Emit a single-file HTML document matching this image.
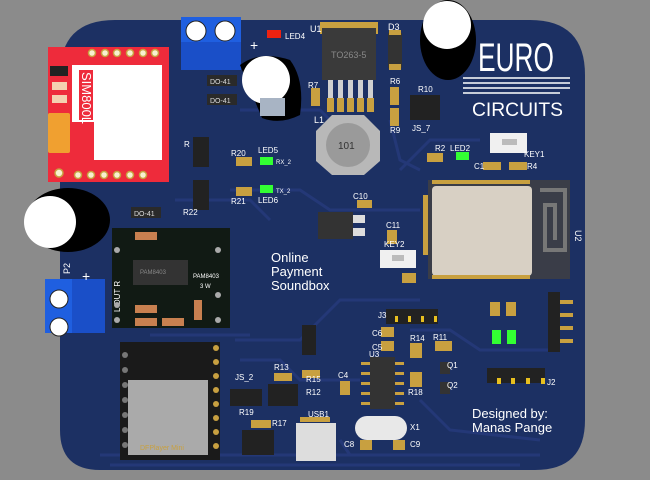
<!DOCTYPE html>
<html><head><meta charset="utf-8"><style>
html,body{margin:0;padding:0;background:#8b8b8b;}
svg{display:block}
text{font-family:"Liberation Sans",sans-serif;}
</style></head><body>
<svg width="650" height="480" viewBox="0 0 650 480" xmlns="http://www.w3.org/2000/svg">
<rect width="650" height="480" fill="#8b8b8b"/>
<!-- board -->
<path d="M115,20 L530,20 Q585,20 585,75 L585,420 Q585,470 535,470 L100,470 Q60,470 60,430 L60,75 Q60,20 115,20 Z" fill="#1c3063"/>
<!-- traces -->
<g stroke="#25397a" stroke-width="3" fill="none" opacity="0.9">
<path d="M240,110 L320,110 L330,120"/><path d="M230,190 L300,190 L330,210 L420,210"/>
<path d="M235,340 L300,340 L340,300 L420,300"/><path d="M240,360 L280,360 L300,380 L360,380"/>
<path d="M400,170 L430,140 L480,140"/><path d="M410,330 L450,330 L480,350 L560,350"/>
<path d="M420,400 L450,430 L540,440"/><path d="M110,465 L520,465"/><path d="M100,455 L540,455"/>
<path d="M175,200 L250,200 L270,220"/><path d="M390,120 L400,160 L420,170"/>
<path d="M340,440 L350,455"/><path d="M150,335 L250,335"/>
</g>
<!-- SIM800L -->
<rect x="48" y="47" width="121" height="135" fill="#ee2b3b"/>
<rect x="72" y="65" width="90" height="95" fill="#fff"/>
<rect x="72" y="122" width="22" height="38" fill="#ee2b3b"/>
<rect x="79" y="70" width="14" height="50" fill="#ee2b3b"/>
<text x="0" y="0" transform="translate(82,72) rotate(90)" font-family="Liberation Serif" font-size="13" fill="#fff">SIM800L</text>
<rect x="48" y="113" width="22" height="40" rx="2" fill="#f0a030"/>
<rect x="50" y="66" width="18" height="10" fill="#222"/>
<rect x="52" y="82" width="15" height="8" fill="#f4d0b0"/><rect x="52" y="95" width="15" height="8" fill="#f4d0b0"/>
<g fill="#f8f0d0" stroke="#c8a040" stroke-width="1.5">
<circle cx="92" cy="53" r="3.5"/><circle cx="105" cy="53" r="3.5"/><circle cx="117" cy="53" r="3.5"/><circle cx="130" cy="53" r="3.5"/><circle cx="143" cy="53" r="3.5"/><circle cx="155" cy="53" r="3.5"/>
<circle cx="78" cy="175" r="3.5"/><circle cx="91" cy="175" r="3.5"/><circle cx="104" cy="175" r="3.5"/><circle cx="117" cy="175" r="3.5"/><circle cx="130" cy="175" r="3.5"/><circle cx="143" cy="175" r="3.5"/>
<circle cx="59" cy="173" r="4"/></g>
<!-- top terminal -->
<rect x="181" y="17" width="60" height="53" fill="#1f5fe0"/>
<rect x="181" y="42" width="60" height="28" fill="#1a4fc8"/>
<circle cx="196" cy="31" r="10" fill="#fff" stroke="#222" stroke-width="1"/><circle cx="225" cy="31" r="10" fill="#fff" stroke="#222" stroke-width="1"/>
<text x="250" y="50" font-size="14" fill="#fff">+</text>
<!-- left terminal -->
<rect x="45" y="279" width="60" height="54" fill="#1f5fe0"/>
<rect x="72" y="279" width="33" height="54" fill="#1a4fc8"/>
<circle cx="59" cy="299" r="9" fill="#fff" stroke="#222"/><circle cx="59" cy="327" r="9" fill="#fff" stroke="#222"/>
<text x="70" y="274" font-size="9" fill="#fff" transform="rotate(-90 70 274)">P2</text>
<text x="82" y="281" font-size="14" fill="#fff">+</text>
<!-- big caps -->
<ellipse cx="68" cy="220" rx="42" ry="32" fill="#000"/><circle cx="50" cy="222" r="26" fill="#fff"/>
<path d="M240,65 Q260,50 290,60 Q305,80 300,115 Q280,125 262,118 Z" fill="#000"/>
<circle cx="266" cy="80" r="24" fill="#fff"/>
<rect x="260" y="98" width="25" height="18" fill="#a8b4c4"/>
<ellipse cx="448" cy="40" rx="28" ry="40" fill="#000"/><circle cx="447" cy="25" r="24" fill="#fff"/>
<!-- diodes -->
<g><rect x="207" y="75" width="30" height="11" fill="#2a2a2a"/><rect x="207" y="94" width="30" height="11" fill="#2a2a2a"/><rect x="131" y="207" width="30" height="11" fill="#2a2a2a"/></g>
<text x="210" y="84" font-size="7" fill="#ddd">DO-41</text><text x="210" y="103" font-size="7" fill="#ddd">DO-41</text><text x="134" y="216" font-size="7" fill="#ddd">DO-41</text>
<!-- U1 -->
<rect x="320" y="22" width="58" height="12" fill="#c8a040"/>
<rect x="322" y="28" width="54" height="52" fill="#3a3a3a"/>
<text x="331" y="58" font-size="9" fill="#888">TO263-5</text>
<g fill="#d0d0d0"><rect x="328" y="80" width="5" height="25"/><rect x="338" y="80" width="5" height="25"/><rect x="348" y="80" width="5" height="25"/><rect x="358" y="80" width="5" height="25"/><rect x="368" y="80" width="5" height="25"/></g>
<g fill="#c8a040"><rect x="327" y="98" width="7" height="14"/><rect x="337" y="98" width="7" height="14"/><rect x="347" y="98" width="7" height="14"/><rect x="357" y="98" width="7" height="14"/><rect x="367" y="98" width="7" height="14"/></g>
<text x="310" y="32" font-size="9" fill="#fff">U1</text>
<!-- D3 -->
<rect x="388" y="33" width="14" height="35" fill="#333"/><rect x="389" y="30" width="12" height="5" fill="#c8a040"/><rect x="389" y="64" width="12" height="6" fill="#c8a040"/>
<text x="388" y="30" font-size="9" fill="#fff">D3</text>
<!-- L1 -->
<polygon points="332,115 364,115 380,131 380,161 364,175 332,175 316,161 316,131" fill="#b8b8b8"/>
<circle cx="348" cy="145" r="22" fill="#9a9a9a"/>
<text x="338" y="149" font-size="10" fill="#333">101</text>
<text x="314" y="123" font-size="9" fill="#fff">L1</text>
<!-- ESP U2 -->
<rect x="428" y="180" width="142" height="99" fill="#3a3d48"/>
<rect x="432" y="186" width="100" height="90" rx="4" fill="#d8d0c4"/>
<path d="M540,190 L565,190 L565,250 L545,250 L545,205 L555,205 L555,240" stroke="#777" stroke-width="4" fill="none"/>
<g fill="#c8a040"><rect x="432" y="180" width="98" height="4"/><rect x="432" y="275" width="98" height="4"/><rect x="423" y="195" width="5" height="60"/></g>
<text x="575" y="230" font-size="9" fill="#fff" transform="rotate(90 575 230)">U2</text>
<!-- logo -->
<text x="478" y="71" font-size="40" fill="#fff" font-family="Liberation Sans Narrow" textLength="76" lengthAdjust="spacingAndGlyphs">EURO</text>
<g stroke="#fff" stroke-width="1.5"><line x1="463" y1="78" x2="570" y2="78"/><line x1="463" y1="83" x2="570" y2="83"/><line x1="463" y1="88" x2="570" y2="88"/><line x1="463" y1="93" x2="560" y2="93"/></g>
<text x="472" y="116" font-size="19" fill="#fff" textLength="91" lengthAdjust="spacingAndGlyphs">CIRCUITS</text>
<!-- PAM board -->
<rect x="112" y="228" width="118" height="100" fill="#111a14"/>
<rect x="133" y="260" width="55" height="25" fill="#333"/>
<text x="140" y="274" font-size="6" fill="#888">PAM8403</text>
<text x="193" y="278" font-size="6" fill="#fff">PAM8403</text><text x="200" y="288" font-size="6" fill="#fff">3 W</text>
<text x="120" y="312" font-size="8" fill="#fff" transform="rotate(-90 120 312)">L OUT R</text>
<g fill="#c88050"><rect x="135" y="232" width="22" height="8"/><rect x="135" y="305" width="22" height="8"/><rect x="135" y="318" width="22" height="8"/><rect x="162" y="318" width="22" height="8"/><rect x="194" y="300" width="8" height="20"/></g>
<g fill="#aaa"><circle cx="117" cy="250" r="3"/><circle cx="117" cy="305" r="3"/><circle cx="117" cy="320" r="3"/><circle cx="218" cy="250" r="3"/><circle cx="218" cy="295" r="3"/><circle cx="218" cy="320" r="3"/></g>
<!-- DFPlayer -->
<rect x="120" y="342" width="100" height="118" fill="#1a1a1a"/>
<rect x="128" y="380" width="80" height="75" fill="#aaa"/>
<text x="140" y="450" font-size="7" fill="#c8a040">DFPlayer Mini</text>
<g fill="#777"><circle cx="125" cy="355" r="3"/><circle cx="125" cy="370" r="3"/><circle cx="125" cy="385" r="3"/><circle cx="125" cy="400" r="3"/><circle cx="125" cy="415" r="3"/><circle cx="125" cy="430" r="3"/><circle cx="125" cy="445" r="3"/></g>
<g fill="#c8a040"><circle cx="216" cy="348" r="3"/><circle cx="216" cy="362" r="3"/><circle cx="216" cy="376" r="3"/><circle cx="216" cy="390" r="3"/><circle cx="216" cy="404" r="3"/><circle cx="216" cy="418" r="3"/><circle cx="216" cy="432" r="3"/><circle cx="216" cy="446" r="3"/></g>
<!-- jumpers -->
<g fill="#222"><rect x="193" y="137" width="16" height="30"/><rect x="193" y="180" width="16" height="30"/><rect x="230" y="389" width="32" height="17"/><rect x="268" y="384" width="30" height="22"/><rect x="242" y="430" width="32" height="25"/><rect x="302" y="325" width="14" height="30"/><rect x="410" y="95" width="30" height="25"/></g>
<!-- LEDs -->
<rect x="260" y="157" width="13" height="8" fill="#3f3"/><rect x="260" y="185" width="13" height="8" fill="#3f3"/><rect x="456" y="152" width="13" height="8" fill="#3f3"/>
<rect x="492" y="330" width="9" height="14" fill="#3f3"/><rect x="507" y="330" width="9" height="14" fill="#3f3"/>
<rect x="267" y="30" width="14" height="8" fill="#e21"/>
<!-- small SMD parts -->
<g fill="#c8a040"><rect x="236" y="157" width="16" height="9"/><rect x="236" y="187" width="16" height="9"/><rect x="311" y="88" width="9" height="18"/><rect x="390" y="87" width="9" height="18"/><rect x="390" y="108" width="9" height="18"/><rect x="427" y="153" width="16" height="9"/><rect x="483" y="162" width="18" height="8"/><rect x="509" y="162" width="18" height="8"/><rect x="357" y="200" width="15" height="8"/><rect x="387" y="230" width="10" height="14"/><rect x="402" y="273" width="14" height="10"/><rect x="381" y="327" width="13" height="10"/><rect x="381" y="341" width="13" height="10"/><rect x="410" y="343" width="12" height="15"/><rect x="410" y="372" width="12" height="15"/><rect x="435" y="341" width="17" height="10"/><rect x="340" y="381" width="10" height="14"/><rect x="360" y="440" width="12" height="10"/><rect x="393" y="440" width="12" height="10"/><rect x="302" y="370" width="18" height="8"/><rect x="274" y="373" width="18" height="8"/><rect x="251" y="420" width="20" height="8"/><rect x="490" y="302" width="10" height="14"/><rect x="506" y="302" width="10" height="14"/></g>
<rect x="318" y="212" width="35" height="27" fill="#333"/><rect x="353" y="215" width="12" height="8" fill="#ddd"/><rect x="353" y="228" width="12" height="8" fill="#ddd"/>
<!-- keys -->
<rect x="490" y="133" width="37" height="20" fill="#f0f0f0"/><rect x="502" y="139" width="15" height="6" fill="#bbb"/>
<rect x="380" y="250" width="36" height="18" fill="#f0f0f0"/><rect x="392" y="255" width="12" height="6" fill="#bbb"/>
<!-- U3 -->
<rect x="370" y="357" width="25" height="52" fill="#333"/>
<g fill="#c8a040"><rect x="361" y="362" width="9" height="3"/><rect x="361" y="372" width="9" height="3"/><rect x="361" y="382" width="9" height="3"/><rect x="361" y="392" width="9" height="3"/><rect x="361" y="402" width="9" height="3"/><rect x="395" y="362" width="9" height="3"/><rect x="395" y="372" width="9" height="3"/><rect x="395" y="382" width="9" height="3"/><rect x="395" y="392" width="9" height="3"/><rect x="395" y="402" width="9" height="3"/></g>
<rect x="440" y="362" width="10" height="12" fill="#333"/><rect x="440" y="382" width="10" height="12" fill="#333"/>
<!-- X1 -->
<rect x="355" y="416" width="52" height="24" rx="12" fill="#e8e8e8"/>
<!-- USB -->
<rect x="296" y="423" width="40" height="38" fill="#ddd"/><rect x="300" y="417" width="30" height="5" fill="#c8a040"/>
<!-- headers -->
<rect x="386" y="309" width="52" height="15" fill="#222"/>
<g fill="#e8c020"><rect x="395" y="316" width="3" height="6"/><rect x="408" y="316" width="3" height="6"/><rect x="421" y="316" width="3" height="6"/><rect x="434" y="316" width="3" height="6"/></g>
<rect x="487" y="368" width="58" height="15" fill="#222"/>
<g fill="#e8c020"><rect x="497" y="378" width="4" height="6"/><rect x="511" y="378" width="4" height="6"/><rect x="526" y="378" width="4" height="6"/><rect x="541" y="378" width="4" height="6"/></g>
<rect x="548" y="292" width="12" height="60" fill="#222"/>
<g fill="#c8a040"><rect x="560" y="300" width="13" height="4"/><rect x="560" y="313" width="13" height="4"/><rect x="560" y="326" width="13" height="4"/><rect x="560" y="339" width="13" height="4"/></g>
<!-- labels -->
<g font-size="8" fill="#fff">
<text x="285" y="39">LED4</text><text x="258" y="153">LED5</text><text x="258" y="203">LED6</text><text x="231" y="156">R20</text><text x="231" y="204">R21</text><text x="183" y="215">R22</text><text x="184" y="147">R</text>
<text x="276" y="164" font-size="6">RX_2</text><text x="276" y="193" font-size="6">TX_2</text>
<text x="308" y="88">R7</text><text x="390" y="84">R6</text><text x="390" y="133">R9</text><text x="418" y="92">R10</text><text x="412" y="131">JS_7</text>
<text x="435" y="151">R2</text><text x="450" y="151">LED2</text><text x="524" y="157">KEY1</text><text x="474" y="169">C1</text><text x="527" y="169">R4</text>
<text x="353" y="199">C10</text><text x="386" y="228">C11</text><text x="384" y="247">KEY2</text>
<text x="378" y="318">J3</text><text x="372" y="336">C6</text><text x="372" y="350">C5</text><text x="369" y="357">U3</text><text x="410" y="341">R14</text><text x="433" y="340">R11</text>
<text x="447" y="368">Q1</text><text x="447" y="388">Q2</text><text x="408" y="395">R18</text><text x="338" y="378">C4</text><text x="410" y="430">X1</text><text x="344" y="447">C8</text><text x="410" y="447">C9</text>
<text x="308" y="417">USB1</text><text x="274" y="370">R13</text><text x="306" y="382">R15</text><text x="306" y="395">R12</text><text x="235" y="380">JS_2</text><text x="239" y="415">R19</text><text x="272" y="426">R17</text>
<text x="547" y="385">J2</text>
</g>
<text x="271" y="262" font-size="13" fill="#fff">Online</text>
<text x="271" y="276" font-size="13" fill="#fff">Payment</text>
<text x="271" y="290" font-size="13" fill="#fff">Soundbox</text>
<text x="472" y="418" font-size="13" fill="#fff">Designed by:</text>
<text x="472" y="432" font-size="13" fill="#fff">Manas Pange</text>
</svg>
</body></html>
